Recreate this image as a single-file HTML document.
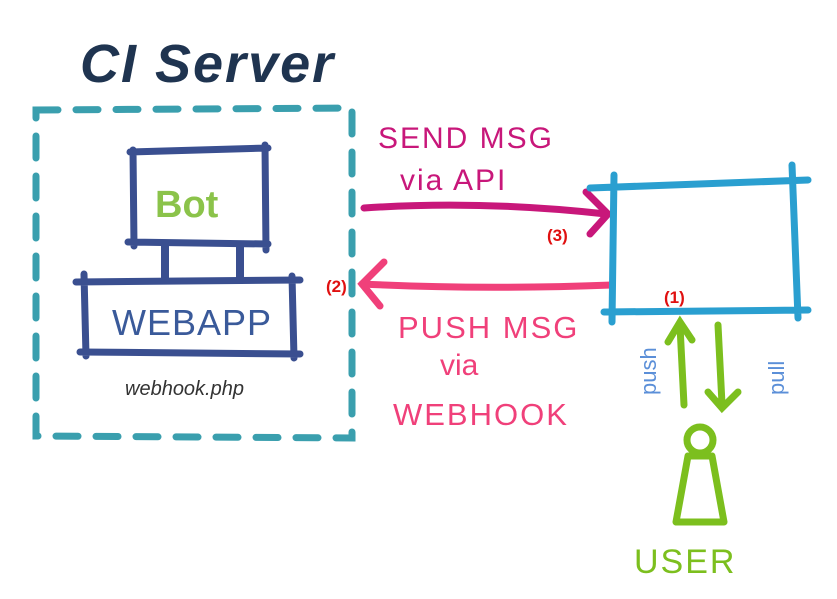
<!DOCTYPE html>
<html><head><meta charset="utf-8"><style>
html,body{margin:0;padding:0;background:#fff;}
svg{display:block;}
text{font-family:"Liberation Sans",sans-serif;}
</style></head><body>
<svg width="837" height="599" viewBox="0 0 837 599" xmlns="http://www.w3.org/2000/svg">
<rect width="837" height="599" fill="#fff"/>
<text x="80" y="82" font-size="54" font-style="italic" font-weight="bold" fill="#1f3450" letter-spacing="2">CI Server</text>
<path d="M36 110 L352 108 L352 438 L36 436 Z" fill="none" stroke="#3a9fae" stroke-width="7" stroke-dasharray="22 18" stroke-linecap="round"/>
<path d="M130 152 L268 148 M133 150 L134 246 M265 145 L266 250 M128 242 L268 244" stroke="#3a4f90" stroke-width="7" fill="none" stroke-linecap="round"/>
<text x="155" y="217" font-size="38" fill="#8bc34a" font-weight="bold">Bot</text>
<path d="M165 246 L165 280 M240 246 L240 280" stroke="#3a4f90" stroke-width="8"/>
<path d="M76 282 L300 280 M84 274 L86 356 M292 276 L294 358 M80 352 L300 354" stroke="#3a4f90" stroke-width="7" fill="none" stroke-linecap="round"/>
<text x="112" y="335" font-size="36" fill="#3a5a9a" letter-spacing="1">WEBAPP</text>
<text x="125" y="395" font-size="20" font-style="italic" fill="#333">webhook.php</text>
<path d="M364 208 Q480 200 606 214" stroke="#c8177a" stroke-width="7" fill="none" stroke-linecap="round"/>
<path d="M586 192 L608 214 L590 234" stroke="#c8177a" stroke-width="7" fill="none" stroke-linecap="round"/>
<text x="378" y="148" font-size="30" fill="#c8177a" letter-spacing="2">SEND MSG</text>
<text x="400" y="190" font-size="30" fill="#c8177a" letter-spacing="2">via API</text>
<text x="547" y="241" font-size="17" font-weight="bold" fill="#e01010">(3)</text>
<path d="M612 285 Q480 290 362 284" stroke="#f0407a" stroke-width="7" fill="none" stroke-linecap="round"/>
<path d="M384 262 L362 284 L380 306" stroke="#f0407a" stroke-width="7" fill="none" stroke-linecap="round"/>
<text x="326" y="292" font-size="17" font-weight="bold" fill="#e01010">(2)</text>
<text x="398" y="338" font-size="31" fill="#f0407a" letter-spacing="2">PUSH MSG</text>
<text x="440" y="375" font-size="30" fill="#f0407a">via</text>
<text x="393" y="425" font-size="31" fill="#f0407a" letter-spacing="2">WEBHOOK</text>
<path d="M590 188 L808 180 M614 175 L612 322 M792 165 L798 318 M604 312 L808 310" stroke="#2a9fd0" stroke-width="7" fill="none" stroke-linecap="round"/>
<text x="664" y="303" font-size="17" font-weight="bold" fill="#e01010">(1)</text>
<text transform="translate(656,395) rotate(-90)" font-size="22" fill="#5b8fd8">push</text>
<text transform="translate(784,395) rotate(-90)" font-size="22" fill="#5b8fd8">pull</text>
<path d="M684 405 L680 326 M668 342 L680 322 L692 340" stroke="#7cbf1e" stroke-width="7" fill="none" stroke-linecap="round"/>
<path d="M718 325 L722 404 M708 392 L722 408 L738 392" stroke="#7cbf1e" stroke-width="7" fill="none" stroke-linecap="round"/>
<circle cx="700" cy="440" r="13" fill="none" stroke="#7cbf1e" stroke-width="7"/>
<path d="M688 456 L676 522 L724 522 L712 456 Z" fill="none" stroke="#7cbf1e" stroke-width="7" stroke-linejoin="round"/>
<text x="634" y="573" font-size="34" fill="#7cbf1e" letter-spacing="2">USER</text>
</svg>
</body></html>
